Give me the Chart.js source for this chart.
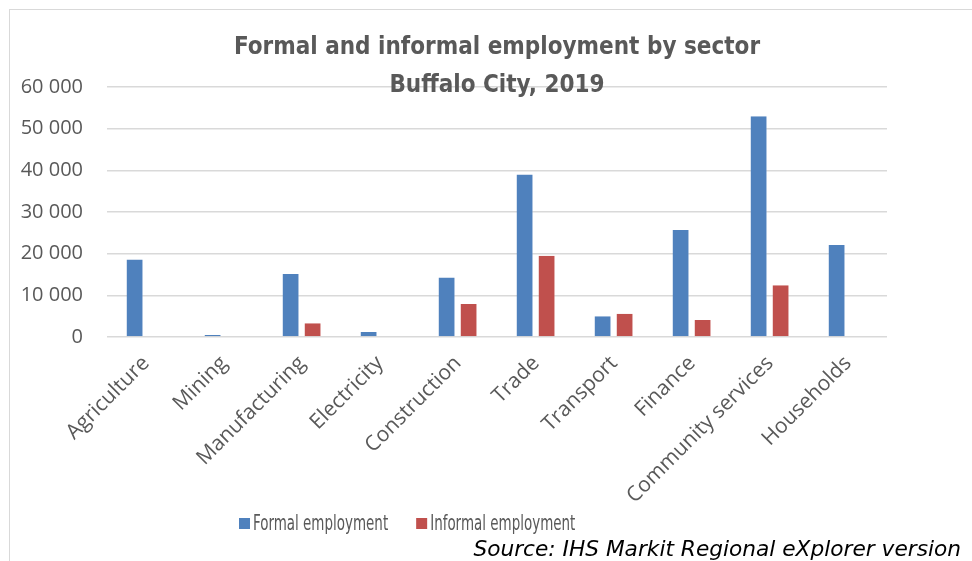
<!DOCTYPE html>
<html>
<head>
<meta charset="utf-8">
<script src="https://cdn.jsdelivr.net/npm/chart.js@4.4.1/dist/chart.umd.min.js"></script>
<style>
  html, body { margin: 0; padding: 0; background: #fff; }
  #wrap { position: relative; width: 972px; height: 561px; overflow: hidden; }
  #frame { position: absolute; left: 9px; top: 9px; width: 990px; height: 600px; border: 1px solid #d9d9d9; box-sizing: border-box; }
  canvas { position: absolute; left: 0; top: 0; }
</style>
</head>
<body>
<div id="wrap">
  <div id="frame"></div>
  <canvas id="bar-chart" width="972" height="561"></canvas>
</div>
<script>
// Chart data
const sectors = ["Agriculture", "Mining", "Manufacturing", "Electricity", "Construction",
  "Trade", "Transport", "Finance", "Community services", "Households"];
const formalEmployment = [18600, 500, 15100, 1200, 14300, 39000, 5000, 25700, 53000, 22100];
const informalEmployment = [0, 0, 3300, 0, 7900, 19500, 5600, 4100, 12400, 0];
const yTicks = [0, 10000, 20000, 30000, 40000, 50000, 60000];
const titleLines = ["Formal and informal employment by sector", "Buffalo City, 2019"];
const sourceNote = "Source: IHS Markit Regional eXplorer version";

const gray = "#595959";

// Title, legend and source text drawn on top of the chart
const textPlugin = {
  id: "textPlugin",
  afterDraw(chart) {
    const c = chart.ctx;
    const mid = (chart.chartArea.left + chart.chartArea.right) / 2;
    c.save();
    c.fillStyle = gray;
    c.textAlign = "center";
    c.textBaseline = "middle";
    c.font = "bold 24px 'DejaVu Sans Condensed', sans-serif";
    c.fillText(titleLines[0], mid, 48);
    c.fillText(titleLines[1], mid, 86);

    // legend (narrow text like the original)
    const squeeze = 0.68;
    c.font = "22px 'DejaVu Sans Condensed', sans-serif";
    c.textAlign = "left";
    let x = 239;
    const y = 524;
    chart.data.datasets.forEach((ds) => {
      c.fillStyle = ds.backgroundColor;
      c.fillRect(x, y - 6, 11, 11);
      x += 14;
      const w = c.measureText(ds.label).width * squeeze;
      c.save();
      c.translate(x, y);
      c.scale(squeeze, 1);
      c.fillStyle = gray;
      c.fillText(ds.label, 0, 0);
      c.restore();
      x += w + 28;
    });

    c.fillStyle = "#000";
    c.textAlign = "right";
    c.font = "italic 21.7px 'DejaVu Sans', sans-serif";
    c.fillText(sourceNote, 961, 550);
    c.restore();
  }
};

const ctx = document.getElementById("bar-chart").getContext("2d");
const myBarChart = new Chart(ctx, {
  type: "bar",
  data: {
    labels: sectors,
    datasets: [
      {
        label: "Formal employment",
        backgroundColor: "#4f81bd",
        borderColor: "rgba(255,255,255,0.35)",
        borderWidth: { right: 1 },
        data: formalEmployment
      },
      {
        label: "Informal employment",
        backgroundColor: "#c0504d",
        borderColor: "rgba(255,255,255,0.35)",
        borderWidth: { right: 1 },
        data: informalEmployment
      }
    ]
  },
  options: {
    responsive: false,
    animation: false,
    categoryPercentage: 0.564,
    barPercentage: 0.77,
    layout: {
      padding: { top: 87, right: 85, bottom: 57, left: 0 }
    },
    scales: {
      x: {
        grid: { display: false },
        border: { display: false },
        ticks: {
          color: gray,
          font: { family: "'Open Sans', sans-serif", size: 21 },
          minRotation: 45,
          maxRotation: 45,
          padding: 6
        },
        afterFit: (scale) => { scale.height = 167; }
      },
      y: {
        min: 0,
        max: 60000,
        afterBuildTicks: (scale) => { scale.ticks = yTicks.map((v) => ({ value: v })); },
        grid: { color: "#d9d9d9", lineWidth: 1.5, drawTicks: false },
        border: { display: false },
        ticks: {
          color: gray,
          padding: 24,
          font: { family: "'Open Sans', sans-serif", size: 20 },
          callback: (v) => v === 0 ? "0" : String(v).replace(/\B(?=(\d{3})+(?!\d))/g, " ")
        },
        afterFit: (scale) => { scale.width = 107; }
      }
    },
    plugins: {
      legend: { display: false },
      title: { display: false },
      tooltip: { enabled: false }
    }
  },
  plugins: [textPlugin]
});
</script>
</body>
</html>
